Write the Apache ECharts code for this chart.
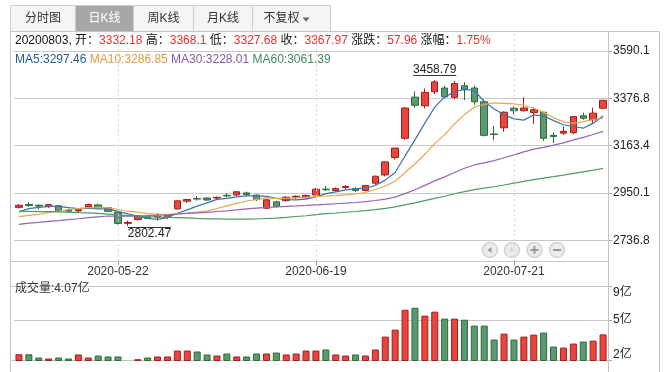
<!DOCTYPE html>
<html><head><meta charset="utf-8">
<script src="https://cdn.jsdelivr.net/npm/echarts@6/dist/echarts.min.js"></script>
<style>html,body{margin:0;padding:0;background:#fff}#c{width:669px;height:372px}</style>
</head><body><div id="c"></div>
<script>
const dates = ['2020-05-08','2020-05-11','2020-05-12','2020-05-13','2020-05-14','2020-05-15','2020-05-18','2020-05-19','2020-05-20','2020-05-21',
'2020-05-22','2020-05-25','2020-05-26','2020-05-27','2020-05-28','2020-05-29','2020-06-01','2020-06-02','2020-06-03','2020-06-04',
'2020-06-05','2020-06-08','2020-06-09','2020-06-10','2020-06-11','2020-06-12','2020-06-15','2020-06-16','2020-06-17','2020-06-18',
'2020-06-19','2020-06-22','2020-06-23','2020-06-24','2020-06-29','2020-06-30','2020-07-01','2020-07-02','2020-07-03','2020-07-06',
'2020-07-07','2020-07-08','2020-07-09','2020-07-10','2020-07-13','2020-07-14','2020-07-15','2020-07-16','2020-07-17','2020-07-20',
'2020-07-21','2020-07-22','2020-07-23','2020-07-24','2020-07-27','2020-07-28','2020-07-29','2020-07-30','2020-07-31','2020-08-03'];
const opens = [2886,2898.6,2895.5,2889,2893,2874,2870,2888,2897,2885,
2864,2814,2831,2843,2842,2840,2879,2914,2926,2928,
2928,2940,2942,2951,2941,2882,2911,2916,2932,2929,
2942,2968,2961,2975,2970,2962,2995,3032,3110,3197,
3382,3343,3406,3423,3381,3433,3423,3361,3216,3244,
3332,3321,3312,3314,3210,3220,3222,3298,3280,3332.18];
const highs = [2900.5,2910,2899.5,2901,2896,2880,2882,2903,2902,2888,
2866,2826,2849,2849,2860,2856,2916,2923,2937,2931,
2935,2950,2959,2957,2944,2922,2916,2937,2940,2944,
2973,2982,2976,2986,2976,2986,3029,3093,3153,3337,
3408,3421,3458.79,3434,3455,3449,3434,3373,3253,3318,
3340,3382,3335,3316,3224,3250,3296,3312,3334,3368.1];
const lows = [2880.6,2888,2878,2884,2866,2861,2862,2886,2878,2865,
2809,2802.47,2827,2834,2826,2833,2877,2906,2916,2913,
2921,2931,2938,2939,2915,2878,2885,2912,2924,2925,
2939,2959,2957,2968,2955,2958,2988,3025,3101,3190,
3334,3331,3396,3377,3372,3369,3347,3205,3188,3226,
3305,3317,3262,3185,3175,3212,3214,3280,3266,3327.68];
const closes = [2895.34,2894.80,2891.56,2898.05,2870.34,2868.46,2875.42,2898.58,2883.74,2867.92,
2813.77,2817.97,2846.55,2836.80,2846.22,2852.35,2915.43,2921.40,2923.37,2919.25,
2930.80,2937.77,2956.11,2943.32,2920.90,2919.74,2890.03,2931.75,2935.87,2939.32,
2967.63,2965.27,2970.62,2979.55,2961.52,2984.67,3025.98,3090.57,3152.81,3332.88,
3345.34,3403.44,3450.59,3383.32,3443.29,3414.62,3361.30,3210.10,3214.13,3314.15,
3320.90,3333.16,3325.11,3196.77,3205.23,3227.96,3294.55,3286.82,3310.01,3367.97];
const volumes = [2.19,2.19,1.88,1.79,1.88,1.79,2.17,1.88,2.07,1.98,
1.98,1.63,1.72,1.88,1.98,1.98,2.54,2.54,2.45,2.17,
2.07,2.26,1.98,1.98,2.26,2.26,2.35,2.17,2.26,2.54,
2.54,2.64,2.17,2.07,2.17,2.07,2.64,3.86,4.52,6.40,
6.59,5.84,6.22,5.56,5.56,5.46,4.90,4.90,3.58,4.14,
3.58,3.86,4.05,4.24,2.92,2.82,3.20,3.39,3.48,4.07];
const ma5 = [2865.50,2879.98,2886.27,2890.25,2890.02,2884.64,2880.77,2882.17,2879.31,2878.82,
2867.89,2856.40,2845.99,2836.60,2832.26,2839.98,2859.47,2874.44,2891.75,2906.36,
2922.05,2926.52,2933.46,2937.45,2937.78,2935.57,2926.02,2921.15,2919.66,2923.34,
2932.92,2947.97,2955.74,2964.48,2968.92,2972.33,2984.47,3008.46,3043.11,3117.38,
3189.52,3265.01,3337.01,3383.11,3405.20,3419.05,3410.62,3362.53,3328.69,3302.86,
3284.12,3278.49,3301.49,3298.02,3276.23,3257.65,3249.92,3242.27,3264.91,3297.46];
const ma10 = [2844.40,2849.49,2854.79,2863.74,2869.23,2875.07,2880.37,2884.22,2884.78,2884.42,
2876.26,2868.58,2864.08,2857.96,2855.54,2853.93,2857.93,2860.22,2864.18,2869.31,
2881.01,2892.99,2903.95,2914.60,2922.07,2928.81,2926.27,2927.30,2928.55,2930.56,
2934.24,2936.99,2938.45,2942.07,2946.13,2952.62,2966.22,2982.10,3003.79,3043.15,
3080.92,3124.74,3172.74,3213.11,3261.29,3304.28,3337.82,3349.77,3355.90,3354.03,
3351.58,3344.56,3332.01,3313.35,3289.55,3270.88,3264.21,3271.88,3281.47,3286.85];
const ma30 = [2809.31,2815.06,2818.73,2823.17,2826.44,2830.48,2834.65,2840.12,2843.56,2847.02,
2846.79,2846.88,2847.57,2848.91,2851.02,2851.86,2855.34,2858.72,2861.55,2863.77,
2867.23,2870.36,2874.28,2878.77,2882.28,2885.94,2888.19,2890.58,2892.50,2894.76,
2897.17,2899.52,2902.16,2904.88,2907.91,2911.79,2916.81,2923.21,2932.18,2947.67,
2965.39,2984.91,3005.04,3023.26,3043.16,3061.91,3076.77,3086.39,3096.08,3109.25,
3122.25,3135.43,3147.73,3156.18,3165.66,3175.93,3189.41,3201.25,3213.72,3228.01];
const ma60 = [2867.62,2867.51,2866.92,2866.79,2866.01,2864.09,2862.26,2860.98,2858.54,2855.68,
2852.06,2848.81,2846.45,2843.87,2843.30,2841.32,2840.03,2838.53,2836.06,2834.14,
2833.93,2832.95,2832.74,2833.07,2833.63,2835.80,2837.64,2841.02,2844.92,2848.15,
2853.27,2857.32,2860.47,2864.05,2867.21,2871.17,2875.76,2881.69,2887.89,2897.37,
2906.11,2915.91,2926.32,2936.10,2947.10,2956.89,2966.06,2972.56,2978.82,2986.51,
2994.74,3002.89,3011.00,3017.47,3023.97,3030.94,3038.81,3045.92,3053.12,3061.39];
const priceTicks = [2736.77, 2950.10, 3163.43, 3376.77, 3590.10];
const volTicks = [1.6, 5.44, 8.6];
const xLabelDates = ['2020-05-22','2020-06-19','2020-07-21'];
const tabs = ['分时图','日K线','周K线','月K线','不复权'];
const infoDate = '20200803';
const infoLabels = ['开','高','低','收','涨跌','涨幅'];
const infoValues = ['3332.18','3368.1','3327.68','3367.97','57.96','1.75%'];

const RED='#E8463D', RED_B='#A31D1D', GREEN='#5B9A6E', GREEN_B='#2C6A3C';
const C_MA5='#3A73AB', C_MA10='#EBA54E', C_MA30='#9A63B3', C_MA60='#4F9A68';
const FONT='"Liberation Sans", Arial, "Noto Sans CJK SC", sans-serif';
const LINE='#c4c4c4';

const chart = echarts.init(document.getElementById('c'));
const ohlc = dates.map((d,i)=>[opens[i],closes[i],lows[i],highs[i]]);
const volData = volumes.map((v,i)=>({value:v,itemStyle:{color:closes[i]>=opens[i]?RED:GREEN,borderColor:closes[i]>=opens[i]?RED_B:GREEN_B}}));
const showDate = (idx,val)=>xLabelDates.indexOf(val)>=0;

// graphic decorations
const g = [];
const tabX = [10.5,75.5,133.5,193.5,252.5,330.5];
tabs.forEach((t,i)=>{
  g.push({type:'rect',shape:{x:tabX[i],y:5.5,width:tabX[i+1]-tabX[i],height:26},style:{fill:i===1?'#a7a7a7':'#f4f4f4',stroke:'#cdcdcd',lineWidth:1},z:1});
  const cx=(tabX[i]+tabX[i+1])/2 - (i===4?10:0);
  g.push({type:'text',x:cx,y:19,style:{text:t,fill:i===1?'#fff':'#333',font:'12px '+FONT,align:'center',verticalAlign:'middle'},z:2});
});
g.push({type:'polygon',shape:{points:[[302.5,17.5],[309.5,17.5],[306,21.5]]},style:{fill:'#666'},z:2});
// frame
const ln=(x1,y1,x2,y2,c)=>g.push({type:'line',shape:{x1,y1,x2,y2},style:{stroke:c||LINE,lineWidth:1},z:1,silent:true});
ln(10.5,31.5,659.5,31.5);
ln(10.5,31.5,10.5,372);
ln(659.5,31.5,659.5,372);
ln(608.5,31.5,608.5,372);
ln(10.5,261.5,608.5,261.5);
ln(10.5,286.5,608.5,286.5);
ln(10.5,360.5,608.5,360.5);
// info row
let rt='{k|'+infoDate+', }';
infoLabels.forEach((l,i)=>{rt+='{k|'+l+'：}{v|'+infoValues[i]+'}'+(i<infoLabels.length-1?'{k| }':'');});
g.push({type:'text',x:15,y:41,style:{text:rt,font:'12px '+FONT,verticalAlign:'middle',rich:{k:{fill:'#111',font:'12px '+FONT},v:{fill:'#E8322E',font:'12px '+FONT}}},z:3});
const maRow='{a|MA5:'+ma5[59].toFixed(2)+'} {b|MA10:'+ma10[59].toFixed(2)+'} {c|MA30:'+ma30[59].toFixed(2)+'} {d|MA60:'+ma60[59].toFixed(2)+'}';
g.push({type:'text',x:15,y:60,style:{text:maRow,font:'12px '+FONT,verticalAlign:'middle',rich:{a:{fill:'#1F5C98',font:'12px '+FONT},b:{fill:'#E39A3A',font:'12px '+FONT},c:{fill:'#8957A6',font:'12px '+FONT},d:{fill:'#3F8A5A',font:'12px '+FONT}}},z:3});
g.push({type:'text',x:15,y:289,style:{text:'成交量:'+volumes[59].toFixed(2)+'亿',fill:'#333',font:'12px '+FONT,verticalAlign:'middle'},z:3});
// navigation buttons
const bx=[490,512,534.5,557];
bx.forEach((x,i)=>{
  g.push({type:'circle',shape:{cx:x,cy:250,r:7.5},style:{fill:'#ececec',stroke:'#d2d2d2',lineWidth:1.5},z:4});
});
g.push({type:'polygon',shape:{points:[[487.5,250],[491.5,247],[491.5,253]]},style:{fill:'#9a9a9a'},z:5});
g.push({type:'polygon',shape:{points:[[514.5,250],[510.5,247],[510.5,253]]},style:{fill:'#d6d6d6'},z:5});
g.push({type:'rect',shape:{x:530.5,y:249,width:8,height:2},style:{fill:'#9a9a9a'},z:5});
g.push({type:'rect',shape:{x:533.5,y:246,width:2,height:8},style:{fill:'#9a9a9a'},z:5});
g.push({type:'rect',shape:{x:553,y:249,width:8,height:2},style:{fill:'#9a9a9a'},z:5});

const option = {
  animation:false,
  backgroundColor:'#fff',
  textStyle:{fontFamily:FONT},
  grid:[
    {left:14,top:31.5,width:594,height:229.8},
    {left:14,top:286.5,width:594,height:74}
  ],
  xAxis:[
    {type:'category',gridIndex:0,data:dates,boundaryGap:true,
     axisLine:{show:false},
     axisTick:{show:true,alignWithLabel:true,interval:showDate,length:4,lineStyle:{color:'#999'}},
     axisLabel:{interval:showDate,color:'#333',fontSize:12,margin:4,fontFamily:FONT},
     splitLine:{show:false}},
    {type:'category',gridIndex:1,data:dates,boundaryGap:true,
     axisLine:{show:false},axisTick:{show:false},axisLabel:{show:false},splitLine:{show:false}}
  ],
  yAxis:[
    {type:'value',gridIndex:0,position:'right',min:2643.2,max:3677.4,
     axisLine:{show:true,lineStyle:{color:LINE}},
     axisTick:{show:true,length:4,customValues:priceTicks,lineStyle:{color:'#aaa'}},
     axisLabel:{customValues:priceTicks,formatter:v=>v.toFixed(1),color:'#222',fontSize:12,margin:5,padding:[4,0,0,0],fontFamily:FONT},
     splitLine:{show:true,lineStyle:{color:'#c9c9c9',width:1}}},
    {type:'value',gridIndex:1,position:'right',min:1.6,max:8.6,
     axisLine:{show:true,lineStyle:{color:LINE}},
     axisTick:{show:true,length:4,customValues:volTicks,lineStyle:{color:'#aaa'}},
     axisLabel:{customValues:volTicks,formatter:v=>Math.round(v)+'亿',color:'#222',fontSize:12,margin:5,fontFamily:FONT,
       verticalAlignMinLabel:'bottom',verticalAlignMaxLabel:'top'},
     splitLine:{show:true,lineStyle:{color:'#c9c9c9',width:1}}}
  ],
  series:[
    {type:'candlestick',xAxisIndex:0,yAxisIndex:0,data:ohlc,barWidth:7,z:3,
     itemStyle:{color:RED,color0:GREEN,borderColor:RED_B,borderColor0:GREEN_B,borderWidth:1},
     markLine:{silent:true,symbol:['none','none'],animation:false,label:{show:false},
       lineStyle:{type:[2,3],color:'#d4d4d4',width:1},
       data:xLabelDates.map(d=>({xAxis:d}))},
     markPoint:{silent:true,symbol:'circle',symbolSize:0,animation:false,
       data:[
        {type:'max',valueDim:'highest',label:{show:true,position:'top',distance:4,
          formatter:p=>'{v|'+p.value+'}\n{u|}',
          rich:{v:{fontSize:12,color:'#222',lineHeight:10,fontFamily:FONT},u:{width:43,height:1,lineHeight:1,backgroundColor:'#333'}}}},
        {type:'min',valueDim:'lowest',label:{show:true,position:'bottom',distance:1,align:'left',
          formatter:p=>'{u|}\n{v|'+p.value+'}',
          rich:{v:{fontSize:12,color:'#222',lineHeight:11,fontFamily:FONT},u:{width:43,height:1,lineHeight:1,backgroundColor:'#333'}}}}
       ]}},
    {name:'MA5',type:'line',data:ma5,xAxisIndex:0,yAxisIndex:0,symbol:'none',z:4,lineStyle:{color:C_MA5,width:1.2}},
    {name:'MA10',type:'line',data:ma10,xAxisIndex:0,yAxisIndex:0,symbol:'none',z:4,lineStyle:{color:C_MA10,width:1.2}},
    {name:'MA30',type:'line',data:ma30,xAxisIndex:0,yAxisIndex:0,symbol:'none',z:4,lineStyle:{color:C_MA30,width:1.2}},
    {name:'MA60',type:'line',data:ma60,xAxisIndex:0,yAxisIndex:0,symbol:'none',z:4,lineStyle:{color:C_MA60,width:1.2}},
    {type:'bar',xAxisIndex:1,yAxisIndex:1,data:volData,barWidth:7,itemStyle:{borderWidth:1}}
  ],
  graphic:g
};
chart.setOption(option);
</script>
</body></html>
